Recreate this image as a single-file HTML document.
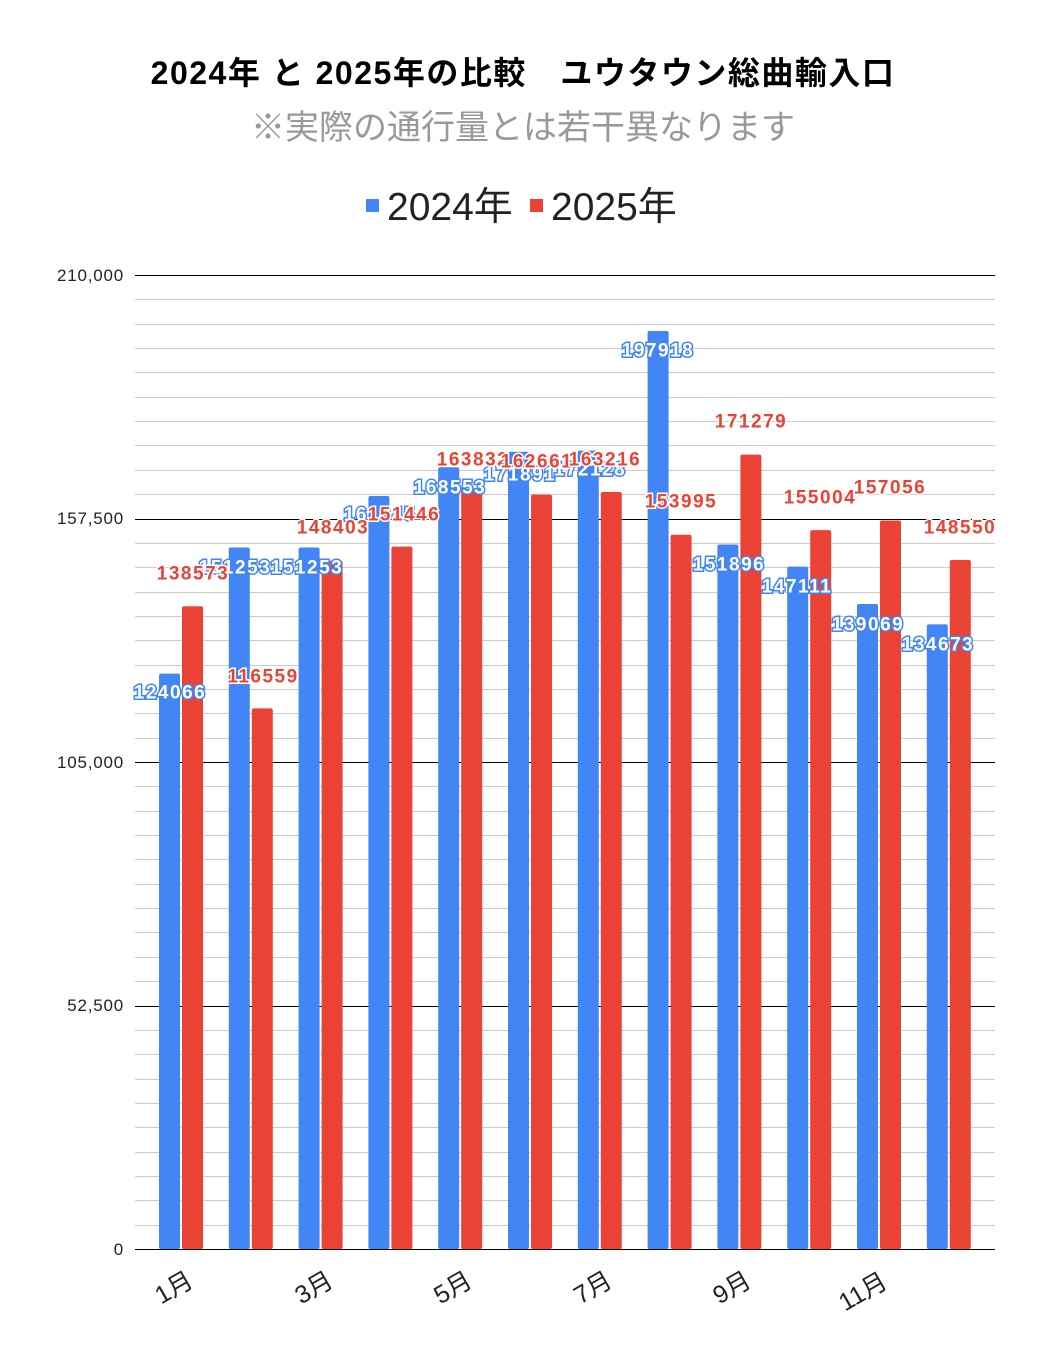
<!DOCTYPE html>
<html><head><meta charset="utf-8"><style>
body{margin:0;background:#fff;}
svg text{font-family:"Liberation Sans","Noto Sans CJK JP",sans-serif;}
.bl{font-size:19px;letter-spacing:1.5px;font-weight:bold;fill:#fff;stroke:#4285f4;stroke-width:3px;paint-order:stroke;text-anchor:middle;dominant-baseline:central;}
.rl{font-size:19px;letter-spacing:1.5px;font-weight:bold;fill:#ea4335;stroke:#fff;stroke-width:3px;paint-order:stroke;text-anchor:middle;dominant-baseline:central;}
</style></head><body>
<svg width="1047" height="1364" xmlns="http://www.w3.org/2000/svg">
<text x="523" y="84" text-anchor="middle" font-size="32" letter-spacing="1.5" font-weight="bold" fill="#000">2024年 と 2025年の比較　ユウタウン総曲輸入口</text>
<text x="523" y="139" text-anchor="middle" font-size="34" fill="#999">※実際の通行量とは若干異なります</text>
<rect x="366" y="199" width="13" height="13" fill="#4285f4"/>
<text x="387" y="220" font-size="39" fill="#222">2024年</text>
<rect x="530" y="199" width="13" height="13" fill="#ea4335"/>
<text x="551" y="220" font-size="39" fill="#222">2025年</text>
<g id="grid"></g>
<g id="bars"></g>
<g id="labels"></g>
<g font-size="17" letter-spacing="0.8" fill="#222" text-anchor="end">
<text x="124" y="281">210,000</text>
<text x="124" y="524">157,500</text>
<text x="124" y="768">105,000</text>
<text x="124" y="1011">52,500</text>
<text x="124" y="1255">0</text>
</g>
<g font-size="25" fill="#222" text-anchor="middle">
<text transform="translate(178,1295) rotate(-30)">1月</text>
<text transform="translate(318,1295) rotate(-30)">3月</text>
<text transform="translate(457,1295) rotate(-30)">5月</text>
<text transform="translate(597,1295) rotate(-30)">7月</text>
<text transform="translate(736,1295) rotate(-30)">9月</text>
<text transform="translate(867,1299) rotate(-30)">11月</text>
</g>
</svg>
<script>
const NS="http://www.w3.org/2000/svg";
function el(p,t,a,txt){const e=document.createElementNS(NS,t);for(const k in a)e.setAttribute(k,a[k]);if(txt!==undefined)e.textContent=txt;document.getElementById(p).appendChild(e);}
const y0=1249,s=974/210000;
for(let i=0;i<=40;i++){const y=Math.round(275+i*974/40)+0.5;el("grid","line",{x1:135,x2:995,y1:y,y2:y,stroke:i%10==0?"#000":"#ccc","stroke-width":1});}
const b=[124066,151253,151253,162345,168553,171891,172128,197918,151896,147111,139069,134673];
const r=[138573,116559,148403,151446,163832,162661,163216,153995,171279,155004,157056,148550];
for(let i=0;i<12;i++){const x=159+i*69.8;
el("bars","rect",{x:x,y:y0-b[i]*s,width:21,height:b[i]*s,fill:"#4285f4",rx:2});
el("bars","rect",{x:x+23,y:y0-r[i]*s,width:21,height:r[i]*s,fill:"#ea4335",rx:2});}
const bl=[[170,693],[235,568],[307,568],[380,515],[450,488],[520,475],[590,470],[658,351],[729,565],[797,587],[868,625],[938,645]];
const rl=[[193,574],[263,677],[333,528],[404,515],[473,460],[537,462],[605,460],[681,502],[751,422],[820,498],[890,488],[960,528]];
bl.forEach((p,i)=>el("labels","text",{x:p[0],y:p[1],class:"bl","font-size":(i==5||i==6)?23:19},String(b[i]==162345?"161345":b[i])));
rl.forEach((p,i)=>el("labels","text",{x:p[0],y:p[1],class:"rl"},String(r[i])));
</script>
</body></html>
